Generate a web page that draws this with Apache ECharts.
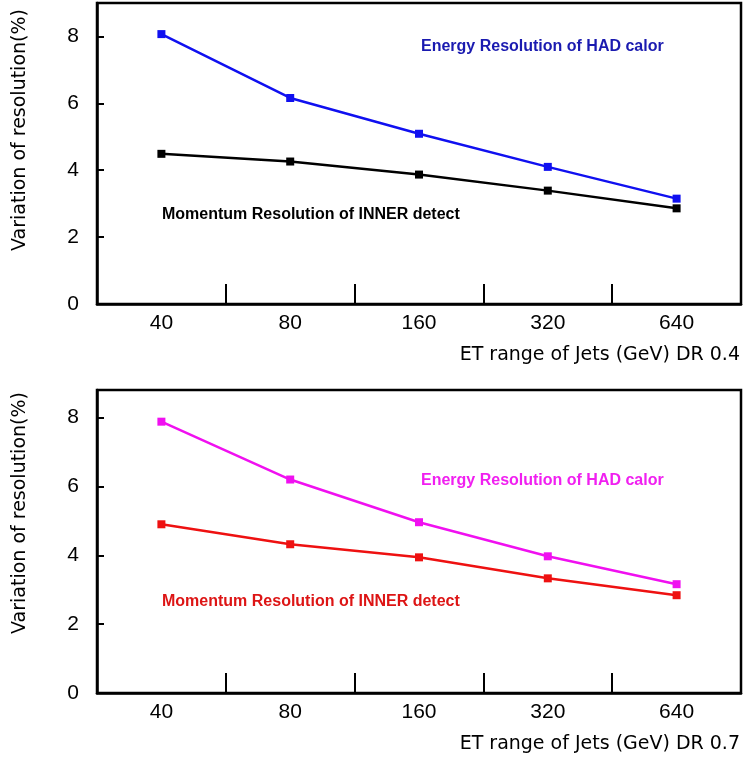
<!DOCTYPE html>
<html>
<head>
<meta charset="utf-8">
<script src="https://cdn.jsdelivr.net/npm/echarts@6/dist/echarts.min.js"></script>
<style>
  html, body { margin: 0; padding: 0; background: #fff; }
  #main { width: 745px; height: 759px; }
</style>
</head>
<body>
<div id="main"></div>
<script>
// ET bins of the jets (GeV)
const categories = ['40', '80', '160', '320', '640']
// DR 0.4
const hadDR04 = [8.07, 6.16, 5.09, 4.10, 3.15]
const innerDR04 = [4.49, 4.26, 3.87, 3.39, 2.86]
// DR 0.7
const hadDR07 = [7.88, 6.20, 4.96, 3.97, 3.16]
const innerDR07 = [4.90, 4.32, 3.94, 3.33, 2.84]
const yTicks = [0, 2, 4, 6, 8]

const tickFont = { color: '#000', fontSize: 21, fontFamily: 'Liberation Sans' }
const nameFont = 'DejaVu Sans'

function xAxisOf(idx, name) {
  return {
    type: 'category',
    gridIndex: idx,
    data: categories,
    boundaryGap: true,
    axisLine: { show: true, lineStyle: { color: '#000', width: 2.5 } },
    axisTick: { show: true, interval: 0, inside: true, length: 20, lineStyle: { color: '#000', width: 2 } },
    axisLabel: Object.assign({ margin: 9, interval: 0 }, tickFont),
    name: name,
    nameLocation: 'end',
    nameGap: -1,
    nameTextStyle: {
      color: '#000', fontSize: 19, fontFamily: nameFont,
      align: 'right', verticalAlign: 'top', padding: [42, 0, 0, 0]
    }
  }
}

function yAxisOf(idx, max) {
  return {
    type: 'value',
    gridIndex: idx,
    min: 0,
    max: max,
    interval: 2,
    splitLine: { show: false },
    axisLine: { show: true, lineStyle: { color: '#000', width: 2.5 } },
    axisTick: { show: true, inside: true, length: 7, lineStyle: { color: '#000', width: 2 } },
    axisLabel: Object.assign({
      margin: 18, showMaxLabel: false,
      formatter: v => yTicks.includes(v) ? String(v) : ''
    }, tickFont)
  }
}

function lineOf(idx, data, color) {
  return {
    type: 'line',
    xAxisIndex: idx,
    yAxisIndex: idx,
    data: data,
    symbol: 'rect',
    symbolSize: 8,
    showAllSymbol: true,
    lineStyle: { color: color, width: 2.5 },
    itemStyle: { color: color },
    silent: true,
    animation: false
  }
}

function note(text, x, y, color) {
  return {
    type: 'text', x: x, y: y,
    style: {
      text: text, fill: color, font: 'bold 16px "Liberation Sans"',
      verticalAlign: 'middle'
    }
  }
}

function yName(y) {
  return {
    type: 'text', x: 20, y: y, rotation: Math.PI / 2,
    style: {
      text: 'Variation of resolution(%)', fill: '#000',
      font: '19px "DejaVu Sans"', align: 'center', verticalAlign: 'middle'
    }
  }
}

const chart = echarts.init(document.getElementById('main'), null, { renderer: 'canvas' })

chart.setOption({
  backgroundColor: '#fff',
  animation: false,
  grid: [
    { left: 97, right: 4, top: 3, height: 301, show: true, borderColor: '#000', borderWidth: 2.5 },
    { left: 97, right: 4, top: 390, height: 303, show: true, borderColor: '#000', borderWidth: 2.5 }
  ],
  xAxis: [
    xAxisOf(0, 'ET range of Jets (GeV) DR 0.4'),
    xAxisOf(1, 'ET range of Jets (GeV) DR 0.7')
  ],
  yAxis: [yAxisOf(0, 9), yAxisOf(1, 8.8)],
  series: [
    lineOf(0, hadDR04, '#1010f0'),
    lineOf(0, innerDR04, '#000'),
    lineOf(1, hadDR07, '#f010f0'),
    lineOf(1, innerDR07, '#ee1111')
  ],
  graphic: [
    yName(130),
    yName(513),
    note('Energy Resolution of HAD calor', 421, 47, '#1a1ab0'),
    note('Momentum Resolution of INNER detect', 162, 215, '#000'),
    note('Energy Resolution of HAD calor', 421, 481, '#f020f0'),
    note('Momentum Resolution of INNER detect', 162, 602, '#dd1515')
  ]
})

window.onresize = function () {
  chart.resize()
}
</script>
</body>
</html>
